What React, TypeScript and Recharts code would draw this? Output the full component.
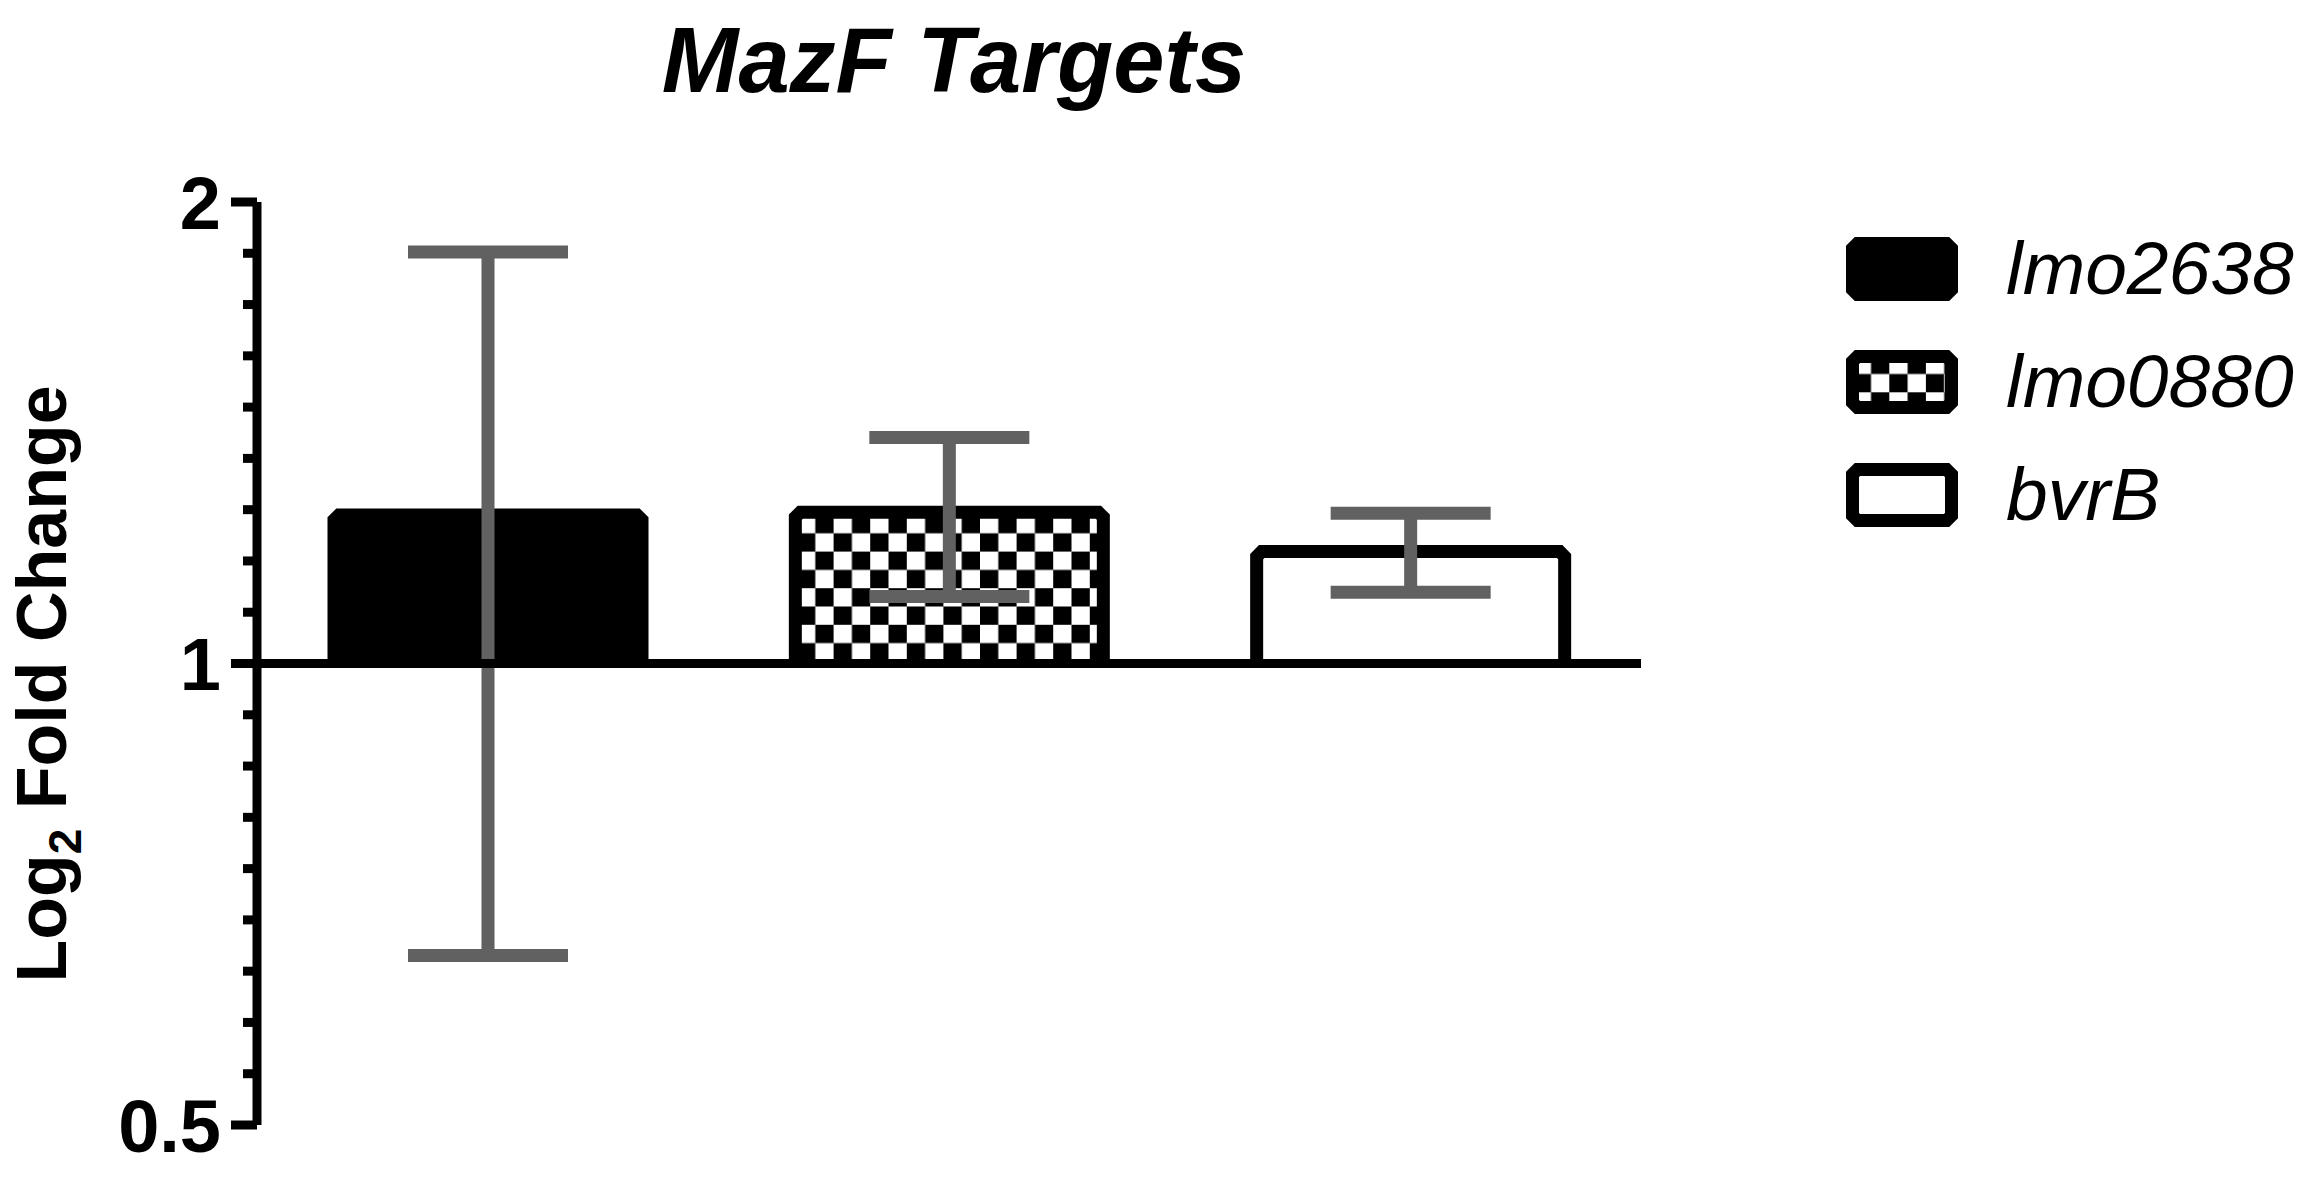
import React from "react";
import { BarChart, Bar, Cell, XAxis, YAxis, ErrorBar, ReferenceLine, Legend } from "recharts";

const GENES = ["lmo2638", "lmo0880", "bvrB"];
const FOLD_CHANGE = [1.25, 1.255, 1.183];
const SD = [0.605, 0.149, 0.07];
const MAJOR_TICKS = [0.5, 1, 2];
const MINOR_PER_OCTAVE = 9;

const FILLS = ["#000000", "url(#checker)", "#ffffff"];
const SWATCH_FILLS = ["#000000", "url(#checkerSwatch)", "#ffffff"];
const FONT = "'Liberation Sans', Arial, Helvetica, sans-serif";
const CELL = 18.3;

// bars run from the 1 baseline up to the fold change
const data = GENES.map((gene, i) => ({ gene, range: [1, FOLD_CHANGE[i]], sd: SD[i] }));

// major ticks plus the evenly spaced (in log) minor ticks between them
const ALL_TICKS: number[] = [];
for (let k = -MINOR_PER_OCTAVE; k <= MINOR_PER_OCTAVE; k++) {
  ALL_TICKS.push(Math.pow(2, k / MINOR_PER_OCTAVE));
}

function AxisTick(props: any) {
  const { x, y, payload } = props;
  const major = MAJOR_TICKS.some((t) => Math.abs(t - payload.value) < 1e-9);
  return (
    <g>
      <line x1={x - (major ? 26 : 14)} x2={x} y1={y} y2={y} stroke="#000" strokeWidth={9} />
      {major && (
        <text
          x={x - 36}
          y={y}
          dy="0.36em"
          textAnchor="end"
          fontSize={74}
          fontWeight="bold"
          fontFamily={FONT}
          fill="#000"
        >
          {String(payload.value)}
        </text>
      )}
    </g>
  );
}

function ChamferBar(props: any) {
  const { x, y, width, height, fill } = props;
  const c = 5;
  const d = `M${x},${y + height} L${x},${y + c} L${x + c},${y} L${x + width - c},${y} L${x + width},${y + c} L${x + width},${y + height}`;
  return <path d={d} fill={fill} stroke="#000" strokeWidth={13} strokeLinejoin="miter" />;
}

function Swatch({ fill }: { fill: string }) {
  const s = 6.5;
  const w = 112 - 2 * s;
  const h = 64 - 2 * s;
  const c = 5;
  const d = `M${s + c},${s} L${s + w - c},${s} L${s + w},${s + c} L${s + w},${s + h - c} L${s + w - c},${s + h} L${s + c},${s + h} L${s},${s + h - c} L${s},${s + c} Z`;
  return (
    <svg width={112} height={64} style={{ display: "block" }}>
      <path d={d} fill={fill} stroke="#000" strokeWidth={13} />
    </svg>
  );
}

function GeneLegend() {
  return (
    <div>
      {GENES.map((g, i) => (
        <div key={g} style={{ display: "flex", alignItems: "center", height: 113 }}>
          <Swatch fill={SWATCH_FILLS[i]} />
          <span
            style={{
              marginLeft: 48,
              fontFamily: FONT,
              fontStyle: "italic",
              fontSize: 75,
              lineHeight: "75px",
              color: "#000",
            }}
          >
            {g}
          </span>
        </div>
      ))}
    </div>
  );
}

export default function App() {
  return (
    <div style={{ position: "absolute", left: 0, top: 0, width: 2314, height: 1178, background: "#fff" }}>
      <svg width={0} height={0} style={{ position: "absolute" }}>
        <defs>
          <pattern id="checker" patternUnits="userSpaceOnUse" x={797} y={515} width={CELL * 2} height={CELL * 2}>
            <rect width={CELL * 2} height={CELL * 2} fill="#fff" />
            <rect x={CELL} y={0} width={CELL} height={CELL} fill="#000" />
            <rect x={0} y={CELL} width={CELL} height={CELL} fill="#000" />
          </pattern>
          <pattern id="checkerSwatch" patternUnits="userSpaceOnUse" x={6.7} y={5.7} width={CELL * 2} height={CELL * 2}>
            <rect width={CELL * 2} height={CELL * 2} fill="#fff" />
            <rect x={CELL} y={0} width={CELL} height={CELL} fill="#000" />
            <rect x={0} y={CELL} width={CELL} height={CELL} fill="#000" />
          </pattern>
        </defs>
      </svg>
      <BarChart
        width={2314}
        height={1178}
        data={data}
        margin={{ top: 202, right: 673, bottom: 53, left: 137 }}
      >
        <XAxis dataKey="gene" hide />
        <YAxis
          type="number"
          scale="log"
          domain={[0.5, 2]}
          allowDataOverflow
          ticks={ALL_TICKS}
          interval={0}
          tickSize={0}
          tickMargin={0}
          tickLine={false}
          tick={<AxisTick />}
          axisLine={{ stroke: "#000", strokeWidth: 9 }}
          width={120}
        />
        <Bar dataKey="range" barSize={308} isAnimationActive={false} shape={<ChamferBar />}>
          {data.map((d, i) => (
            <Cell key={d.gene} fill={FILLS[i]} />
          ))}
          <ErrorBar dataKey="sd" direction="y" width={80} strokeWidth={13} stroke="#616161" />
        </Bar>
        <ReferenceLine y={1} stroke="#000" strokeWidth={9} />
        <Legend
          layout="vertical"
          align="center"
          verticalAlign="middle"
          content={() => <GeneLegend />}
          wrapperStyle={{ left: 1846, top: 212, width: 460, height: 340 }}
        />
      </BarChart>
      <svg
        width={2314}
        height={1178}
        style={{ position: "absolute", left: 0, top: 0, pointerEvents: "none" }}
      >
        <text
          x={954}
          y={92}
          textAnchor="middle"
          fontSize={92}
          fontWeight="bold"
          fontStyle="italic"
          fontFamily={FONT}
          fill="#000"
        >
          MazF Targets
        </text>
        <text
          transform="translate(66,684) rotate(-90)"
          textAnchor="middle"
          fontSize={70}
          fontWeight="bold"
          fontFamily={FONT}
          fill="#000"
        >
          Log
          <tspan fontSize={46} dy={15}>2</tspan>
          <tspan dy={-15}> Fold Change</tspan>
        </text>
      </svg>
    </div>
  );
}
